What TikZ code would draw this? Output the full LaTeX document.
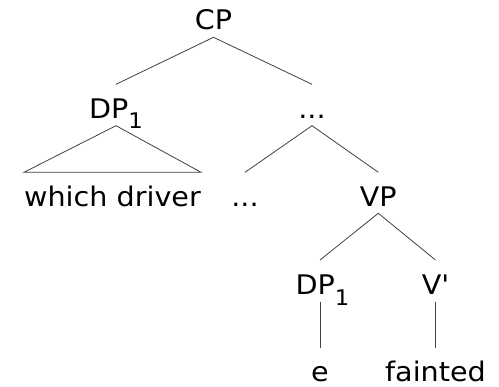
\documentclass[tikz,border=0pt]{standalone}
\usepackage{fontspec}
\newfontfamily\treefont{DejaVu Sans}[FakeStretch=1.06]
\newcommand{\subone}{\raisebox{-10.5pt}{\fontsize{21.5pt}{21.5pt}\selectfont 1}}
\begin{document}
\begin{tikzpicture}[x=1pt,y=-1pt,
  lab/.style={anchor=base,inner sep=0pt,font=\treefont\fontsize{27pt}{32pt}\selectfont},
  branch/.style={draw=black!75,line width=0.8pt}]
\useasboundingbox (0,0) rectangle (499,387);
\node[lab] (cp) at (213.5,29.5) {CP};
\node[lab] (dpa) at (116,118.3) {DP\subone};
\node[lab] (dotsa) at (312,118.3) {...};
\node[lab] (wd) at (112.5,206.7) {which driver};
\node[lab] (dotsb) at (245,206.7) {...};
\node[lab] (vp) at (378.3,206.7) {VP};
\node[lab] (dpb) at (322.5,295) {DP\subone};
\node[lab] (vbar) at (435.5,295) {V'};
\node[lab] (e) at (320,381.7) {e};
\node[lab] (fainted) at (435.5,381.7) {fainted};
% CP
\draw[branch] ([yshift=34pt]dpa.base) -- ([yshift=-7.8pt]cp.base) -- ([yshift=34pt]dotsa.base);
% DP triangle
\draw[branch] ([yshift=-7.4pt]dpa.base) -- ([yshift=34.4pt]wd.base west) -- ([yshift=34.4pt]wd.base east) -- cycle;
% ...
\draw[branch] ([yshift=34.4pt]dotsb.base) -- ([yshift=-7.4pt]dotsa.base) -- ([yshift=34.4pt]vp.base);
% VP
\draw[branch] ([yshift=35pt]dpb.base -| e.base) -- ([yshift=-6.6pt]vp.base) -- ([yshift=35pt]vbar.base);
% unary
\draw[branch] ([yshift=-6.7pt]dpb.base -| e.base) -- ([yshift=33.4pt]e.base);
\draw[branch] ([yshift=-6.7pt]vbar.base) -- ([yshift=33.4pt]fainted.base);
\end{tikzpicture}
\end{document}
